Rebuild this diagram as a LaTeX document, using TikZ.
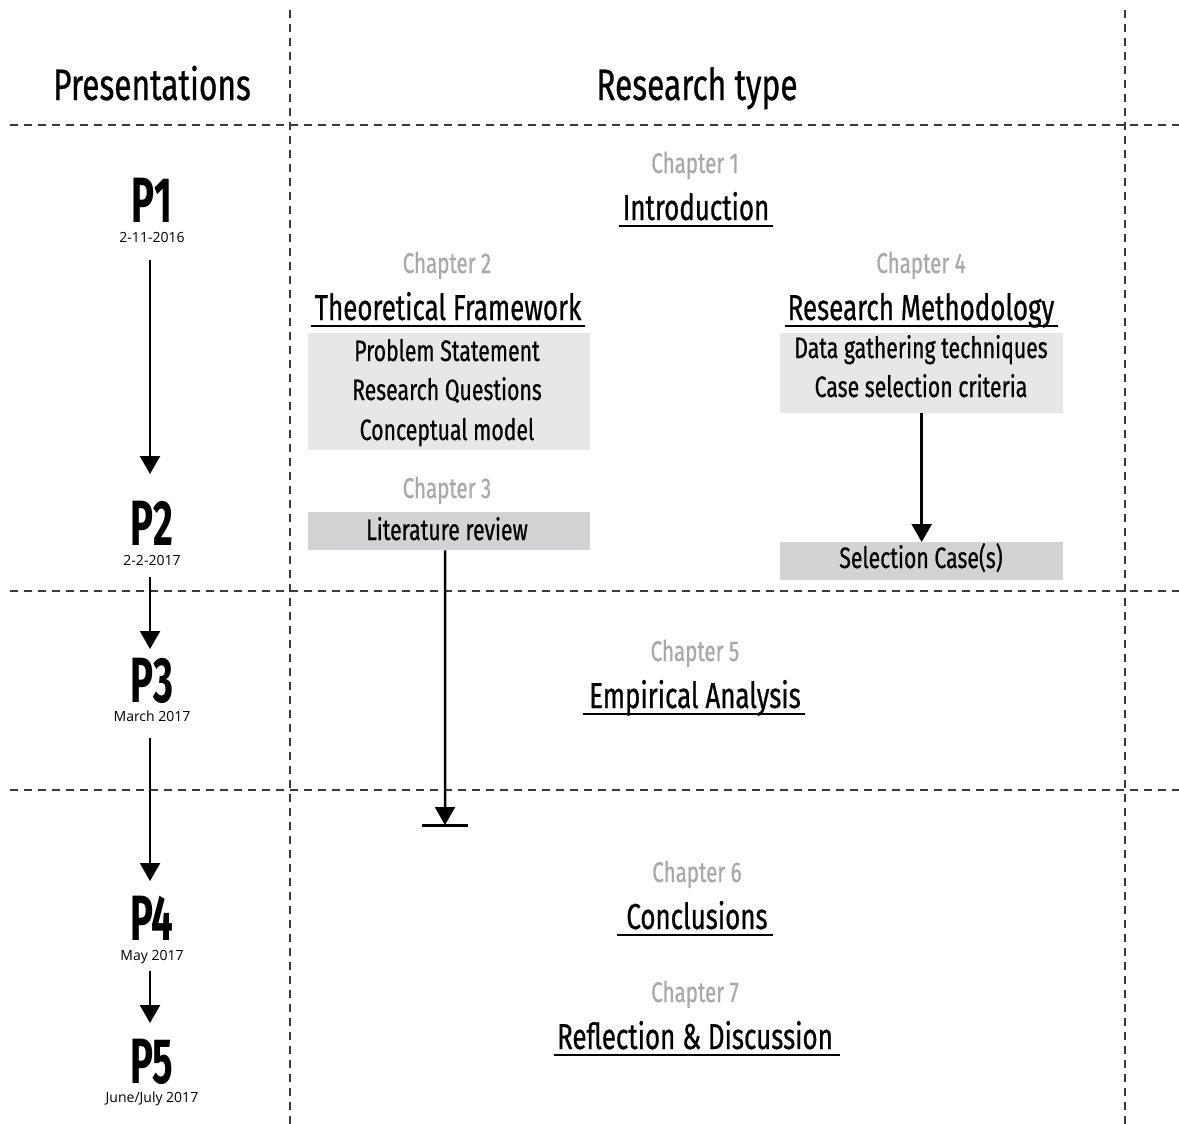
\documentclass[tikz,border=0pt]{standalone}
\usepackage{fontspec}
\setmainfont{Fira Sans}
\newfontfamily\hd[FakeStretch=0.72,FakeBold=0.6]{Fira Sans}
\newfontfamily\pf[FakeStretch=0.6]{Fira Sans}
\newfontfamily\dt{Open Sans}
\usetikzlibrary{arrows.meta}
\definecolor{chapgray}{HTML}{A7A9AC}
\definecolor{boxlight}{HTML}{E6E7E8}
\definecolor{boxdark}{HTML}{D1D3D4}
\definecolor{dashc}{HTML}{3A3A3A}
\begin{document}
\begin{tikzpicture}[x=1pt,y=-1pt,
  grid/.style={dashc, line width=1.2pt, dash pattern=on 8pt off 6pt},
  flow/.style={line width=2.5pt, -{Triangle[width=20pt,length=18pt]}},
  title/.style={font=\hd\fontsize{36}{36}\selectfont, anchor=base, inner sep=0pt},
  chap/.style={font=\hd\fontsize{28.5}{28.5}\selectfont, text=chapgray, anchor=base, inner sep=0pt},
  item/.style={font=\hd\fontsize{29.5}{29.5}\selectfont, anchor=base, inner sep=0pt},
  pres/.style={font=\pf\bfseries\fontsize{64}{64}\selectfont, anchor=base, inner sep=0pt},
  datelbl/.style={font=\dt\fontsize{14}{14}\selectfont, anchor=base, inner sep=0pt},
  head/.style={font=\hd\fontsize{44}{44}\selectfont, anchor=base, inner sep=0pt},
  uline/.style={line width=2.2pt},
  lightbox/.style={fill=boxlight, anchor=north west, inner sep=0pt},
  darkbox/.style={fill=boxdark, anchor=north west, inner sep=0pt},
]
\useasboundingbox (0,0) rectangle (1179,1124);
\fill[white] (0,0) rectangle (1179,1124);

% grid
\draw[grid] (290,10) -- (290,1124);
\draw[grid] (1125,10) -- (1125,1124);
\draw[grid] (10,125) -- (1179,125);
\draw[grid] (10,591) -- (1179,591);
\draw[grid] (10,790) -- (1179,790);

% headers
\node[head] (hpres) at (152,100) {Presentations};
\node[head] (hres) at (697,100) {Research type};

% presentations
\node[pres] (p1) at (152,222) {P1};
\node[datelbl] (d1) at (152,242) {2-11-2016};
\node[pres] (p2) at (152,545) {P2};
\node[datelbl] (d2) at (152,565) {2-2-2017};
\node[pres] (p3) at (152,702) {P3};
\node[datelbl] (d3) at (152,721) {March 2017};
\node[pres] (p4) at (152,940) {P4};
\node[datelbl] (d4) at (152,960) {May 2017};
\node[pres] (p5) at (152,1083) {P5};
\node[datelbl] (d5) at (152,1102) {June/July 2017};

\coordinate (a1s) at (150,260); \coordinate (a1e) at (150,474);
\coordinate (a2s) at (150,577); \coordinate (a2e) at (150,649);
\coordinate (a3s) at (150,738); \coordinate (a3e) at (150,881);
\coordinate (a4s) at (150,971); \coordinate (a4e) at (150,1023);
\draw[flow] (a1s) -- (a1e);
\draw[flow] (a2s) -- (a2e);
\draw[flow] (a3s) -- (a3e);
\draw[flow] (a4s) -- (a4e);

% chapter 1
\node[chap] (c1) at (695,173) {Chapter 1};
\node[title] (intro) at (696,220) {Introduction};
\draw[uline] ([shift={(-4,6)}]intro.base west) -- ([shift={(4,6)}]intro.base east);

% chapter 2
\node[chap] (c2) at (447,273) {Chapter 2};
\node[title] (tf) at (448,320) {Theoretical Framework};
\draw[uline] ([shift={(-3,6)}]tf.base west) -- ([shift={(3,6)}]tf.base east);
\node[lightbox, minimum width=282pt, minimum height=117pt] (tfbox) at (308,333) {};
\node[item] (ps) at (447,361) {Problem Statement};
\node[item] (rq) at (447,400) {Research Questions};
\node[item] (cm) at (447,440) {Conceptual model};

% chapter 3
\node[chap] (c3) at (447,498) {Chapter 3};
\node[darkbox, minimum width=282pt, minimum height=38pt] (litbox) at (308,512) {};
\node[item] (lit) at (447,540) {Literature review};
\coordinate (litend) at (445,825);
\draw[flow] ([xshift=-4pt]litbox.south) -- (litend);
\draw[line width=3pt] (422,825) -- (468,825);

% chapter 4
\node[chap] (c4) at (921,273) {Chapter 4};
\node[title] (rm) at (921,320) {Research Methodology};
\draw[uline] ([shift={(-3,6)}]rm.base west) -- ([shift={(3,6)}]rm.base east);
\node[lightbox, minimum width=283pt, minimum height=80pt] (rmbox) at (780,333) {};
\node[item] (dg) at (921,358) {Data gathering techniques};
\node[item] (cs) at (921,397) {Case selection criteria};
\node[darkbox, minimum width=283pt, minimum height=38pt] (selbox) at (780,542) {};
\node[item] (sel) at (921,568) {Selection Case(s)};
\draw[flow] (rmbox.south) -- (selbox.north);

% chapter 5
\node[chap] (c5) at (695,661) {Chapter 5};
\node[title] (emp) at (695,708) {Empirical Analysis};
\draw[uline] ([shift={(-6,6)}]emp.base west) -- ([shift={(4,6)}]emp.base east);

% chapter 6
\node[chap] (c6) at (697,882) {Chapter 6};
\node[title] (conc) at (697,929) {Conclusions};
\draw[uline] ([shift={(-9,6)}]conc.base west) -- ([shift={(5,6)}]conc.base east);

% chapter 7
\node[chap] (c7) at (695,1002) {Chapter 7};
\node[title] (refl) at (695,1049) {Reflection \& Discussion};
\draw[uline] ([shift={(-3,6)}]refl.base west) -- ([shift={(7,6)}]refl.base east);
\end{tikzpicture}
\end{document}
